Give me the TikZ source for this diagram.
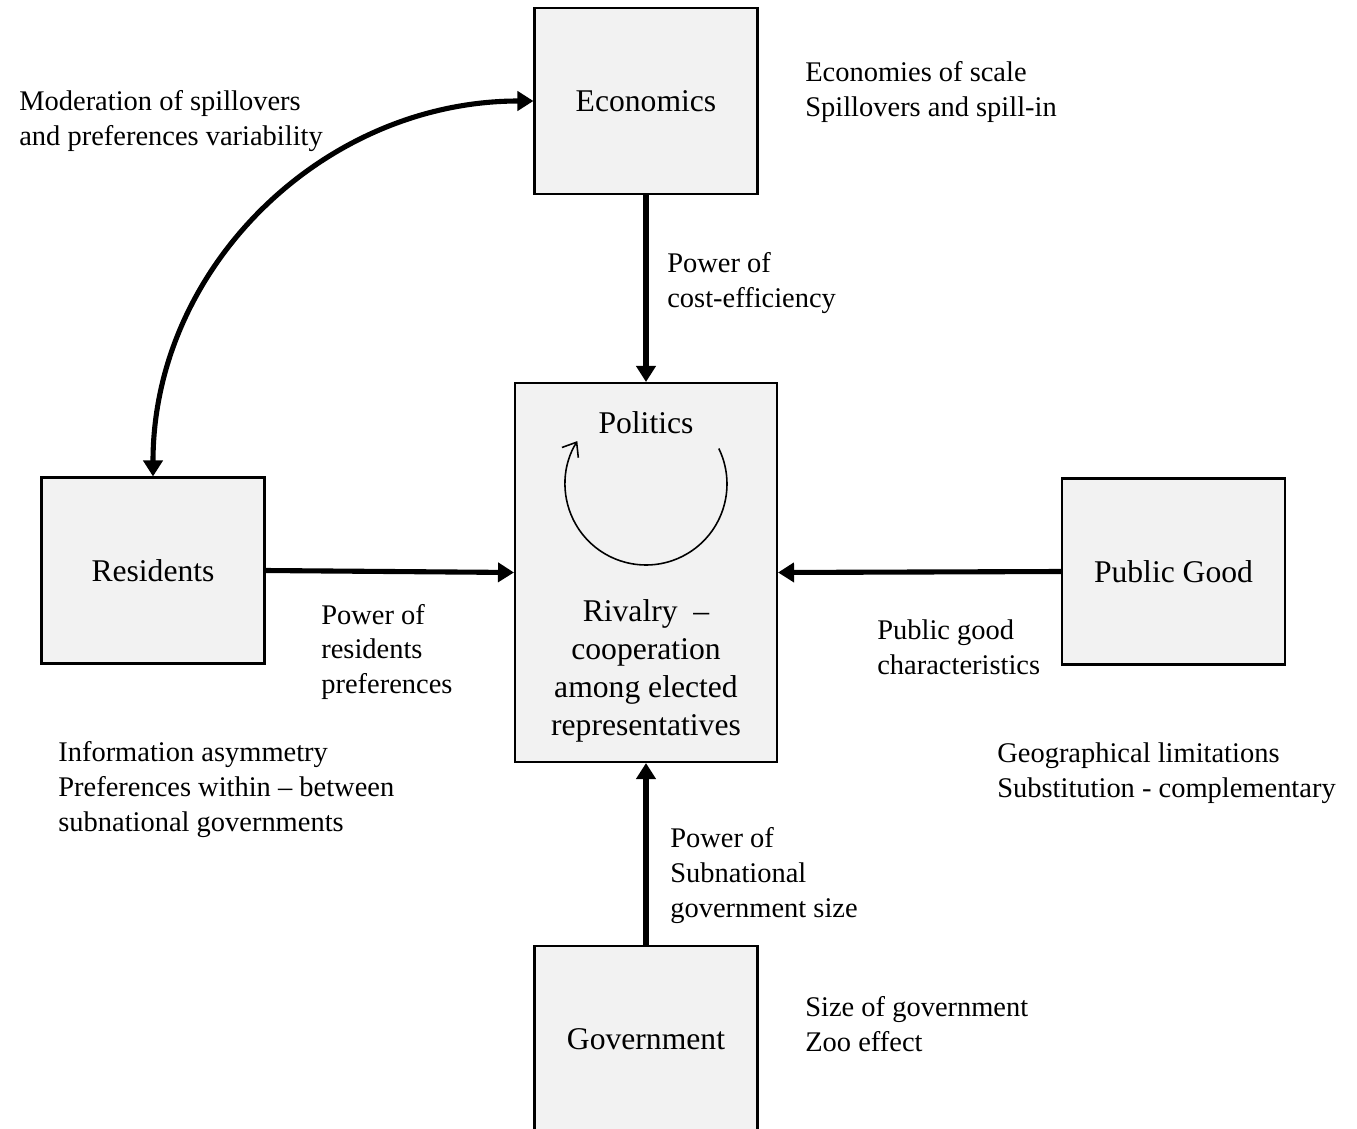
\documentclass[tikz,border=0pt]{standalone}
\usepackage{fontspec}
\setmainfont{Liberation Serif}
\usetikzlibrary{shapes,arrows.meta}
\definecolor{boxgray}{HTML}{F2F2F2}
\tikzset{
block/.style={draw, line width=1.2pt, fill=boxgray, minimum width=4.46cm, minimum height=3.72cm, font=\fontsize{18}{21.6}\selectfont},
note/.style={anchor=west, align=left, inner sep=0pt, font=\fontsize{16.2}{19.9}\selectfont},
flow/.style={line width=2.9pt, -{Triangle[length=0.32cm,width=0.38cm]}},
}

\begin{document}
\begin{tikzpicture}[x=0.02cm,y=-0.02cm]
\useasboundingbox (0,0) rectangle (1357,1129);
\node[block] (econ) at (646,101) {Economics};
\node[block] (residents) at (153,570.5) {Residents};
\node[block] (publicgood) at (1173.5,571.5) {Public Good};
\node[block] (government) at (646,1039) {Government};
\node[block, minimum width=5.24cm, minimum height=7.58cm] (politics) at (646,572.5) {};
\node[font=\fontsize{18}{21.6}\selectfont] (poltitle) at (646,423) {Politics};
\node[align=center, font=\fontsize{18}{21.6}\selectfont] (rivalry) at (646,671) {Rivalry \ –\\cooperation\\among elected\\representatives};
\coordinate (spin) at (646,484);
\draw[line width=0.9pt, -{Straight Barb[length=7pt,width=11pt]}] (spin) ++(26:1.62cm) arc[start angle=26, end angle=-212, radius=1.62cm];
% notes beside the boxes
\node[note] (econnote) at (805,92) {Economies of scale\\Spillovers and spill-in};
\node[note] (modnote) at (19,121) {Moderation of spillovers\\and preferences variability};
\node[note] (costnote) at (667,283) {Power of\\cost-efficiency};
\node[note] (resnote) at (321,652) {Power of\\residents\\preferences};
\node[note] (goodnote) at (877,647) {Public good\\characteristics};
\node[note] (infonote) at (58,790) {Information asymmetry\\Preferences within – between\\subnational governments};
\node[note] (geonote) at (997,773.5) {Geographical limitations\\Substitution - complementary};
\node[note] (sizenote) at (670,875.5) {Power of\\Subnational\\government size};
\node[note] (zoonote) at (805,1024.5) {Size of government\\Zoo effect};
% connectors
\draw[flow] (econ.south) -- (politics.north);
\draw[flow] (residents.east) -- (politics.west);
\draw[flow] (publicgood.west) -- (politics.east);
\draw[flow] (government.north) -- (politics.south);
\draw[flow, {Triangle[length=0.32cm,width=0.38cm]}-{Triangle[length=0.32cm,width=0.38cm]}] (residents.north) to[out=90,in=180] (econ.west);
\end{tikzpicture}
\end{document}
